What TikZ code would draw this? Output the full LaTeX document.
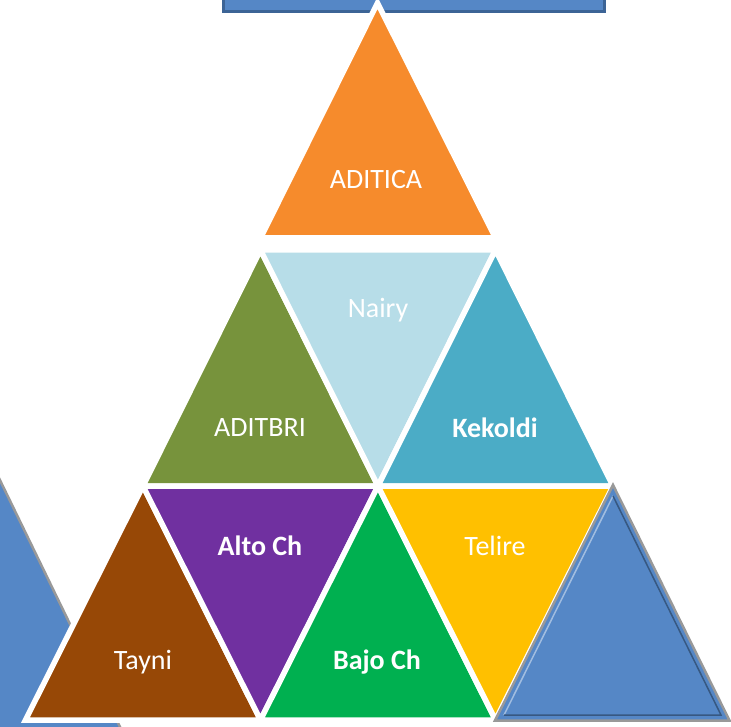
\documentclass[tikz,border=0pt]{standalone}
\usepackage{fontspec}
\usetikzlibrary{calc}
\setmainfont{Carlito}
\definecolor{cOrange}{HTML}{F68B2C}
\definecolor{cLight}{HTML}{B7DDE8}
\definecolor{cOlive}{HTML}{77933C}
\definecolor{cTeal}{HTML}{4BACC6}
\definecolor{cBrown}{HTML}{974806}
\definecolor{cPurple}{HTML}{7030A0}
\definecolor{cGreen}{HTML}{00B050}
\definecolor{cYellow}{HTML}{FFC000}
\definecolor{cBlue}{HTML}{5587C6}
\definecolor{cBlueEdge}{HTML}{3C6496}
\begin{document}
\begin{tikzpicture}[x=1pt,y=-1pt,
  tri/.style={draw=white,line width=5.5pt,line join=miter},
  bluetri/.style={fill=cBlue,draw=gray!80,line width=2.5pt,line join=miter},
  lbl/.style={text=white,font=\fontsize{28}{32}\selectfont},
  lblb/.style={text=white,font=\fontsize{28}{32}\selectfont\bfseries}]
\useasboundingbox (0,0) rectangle (731,727);
\begin{scope}
\clip (0,0) rectangle (731,727);
% grid points
\coordinate (apex) at (377.5,3);
\coordinate (o1) at (260.5,238);
\coordinate (o2) at (495.5,238);
\coordinate (a1) at (260.5,250);
\coordinate (a2) at (495.5,250);
\coordinate (b1) at (143,486);
\coordinate (b2) at (378,486);
\coordinate (b3) at (613,486);
\coordinate (c1) at (25.5,720);
\coordinate (c2) at (260.5,720);
\coordinate (c3) at (495.5,720);
% top rectangle
\fill[cBlue,draw=cBlueEdge,line width=3pt] (223.5,-10) rectangle (604.5,11.5);
% left blue triangle
\coordinate (l1) at (-39,400);
\coordinate (l2) at (155.5,800);
\coordinate (l3) at (-233,800);
\draw[bluetri] (l1) -- (l2) -- (l3) -- cycle;
% row 1
\draw[tri,fill=cOrange] (apex) -- (o2) -- (o1) -- cycle;
% row 2
\draw[tri,fill=cOlive] (a1) -- (b2) -- (b1) -- cycle;
\draw[tri,fill=cLight] (a1) -- (a2) -- (b2) -- cycle;
\draw[tri,fill=cTeal] (a2) -- (b3) -- (b2) -- cycle;
% row 3
\draw[tri,fill=cBrown] (b1) -- (c2) -- (c1) -- cycle;
\draw[tri,fill=cPurple] (b1) -- (b2) -- (c2) -- cycle;
\draw[tri,fill=cGreen] (b2) -- (c3) -- (c2) -- cycle;
\draw[tri,fill=cYellow] (b2) -- (b3) -- (c3) -- cycle;
% right blue triangle with bevel
\coordinate (r1) at (613,485);
\coordinate (r2) at (729.5,720.5);
\coordinate (r3) at (495,720.5);
\draw[bluetri] (r1) -- (r2) -- (r3) -- cycle;
\coordinate (s1) at (613,496);
\coordinate (s2) at (721,715);
\coordinate (s3) at (504,715);
\draw[white!45!cBlue,line width=1.5pt] (s3) -- (s1);
\draw[black!35!cBlue,line width=1.5pt] (s1) -- (s2) -- (s3);
\end{scope}
% labels
\node[lbl]  (aditica) at (376,180) {ADITICA};
\node[lbl]  (nairy)   at (378,310) {Nairy};
\node[lbl]  (aditbri) at (260,428) {ADITBRI};
\node[lblb] (kekoldi) at (495,428) {Kekoldi};
\node[lblb] (alto)    at (260,546) {Alto Ch};
\node[lbl]  (telire)  at (495,546) {Telire};
\node[lbl]  (tayni)   at (143,662) {Tayni};
\node[lblb] (bajo)    at (377,662) {Bajo Ch};
\end{tikzpicture}
\end{document}
